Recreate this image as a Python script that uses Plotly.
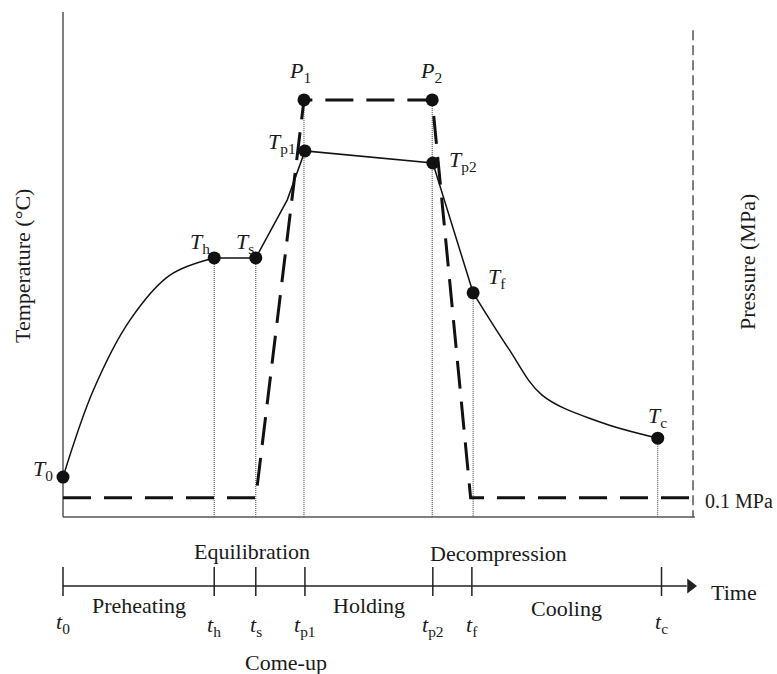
import plotly.graph_objects as go

# ---------------- data (schematic, relative units) ----------------
# event times on the time axis
event_times = [0, 24.0, 30.6, 38.4, 58.7, 64.9, 95.0]
event_labels = ["<i>t</i><sub>0</sub>", "<i>t</i><sub>h</sub>", "<i>t</i><sub>s</sub>",
                "<i>t</i><sub>p1</sub>", "<i>t</i><sub>p2</sub>", "<i>t</i><sub>f</sub>",
                "<i>t</i><sub>c</sub>"]

# temperature curve segments
preheat_t = [0, 4.81, 10.63, 16.98, 24.0]
preheat_v = [7.9, 25.1, 39.0, 47.9, 51.3]
middle_t = [24.0, 30.6, 35.6, 38.4, 58.7, 65.1]
middle_v = [51.3, 51.3, 62.8, 72.5, 70.1, 44.4]
cooling_t = [65.1, 70.7, 76.0, 85.0, 94.4]
cooling_v = [44.4, 33.4, 24.2, 18.9, 15.6]

# key temperature points
temp_point_labels = ["<i>T</i><sub>0</sub>", "<i>T</i><sub>h</sub>", "<i>T</i><sub>s</sub>",
                     "<i>T</i><sub>p1</sub>", "<i>T</i><sub>p2</sub>", "<i>T</i><sub>f</sub>",
                     "<i>T</i><sub>c</sub>"]
temp_point_t = [0, 24.0, 30.6, 38.4, 58.7, 65.1, 94.4]
temp_point_v = [7.9, 51.3, 51.3, 72.5, 70.1, 44.4, 15.6]

# pressure profile
pres_t = [0, 30.6, 38.25, 58.6, 64.7, 100]
pres_v = [3.8, 3.8, 82.6, 82.6, 3.8, 3.8]
pres_point_labels = ["<i>P</i><sub>1</sub>", "<i>P</i><sub>2</sub>"]
pres_point_t = [38.25, 58.6]
pres_point_v = [82.6, 82.6]

phase_labels = ["Preheating", "Equilibration", "Come-up", "Holding", "Decompression", "Cooling"]

# ---------------- figure ----------------
FONT = "Liberation Serif"
FS = 22
TIME_AXIS_Y = -13.66

fig = go.Figure()

# guide lines (dotted) from the key points down to the time axis
drops = [
    (temp_point_t[1], temp_point_v[1]),
    (temp_point_t[2], temp_point_v[2]),
    (pres_point_t[0], pres_point_v[0]),
    (pres_point_t[1], pres_point_v[1]),
    (temp_point_t[5], temp_point_v[5]),
    (temp_point_t[6], temp_point_v[6]),
]
for x, y in drops:
    fig.add_trace(go.Scatter(x=[x, x], y=[y, 0], mode="lines",
                             line=dict(color="#333333", width=1, dash="1px,1px"),
                             hoverinfo="skip", showlegend=False))

# frame: left axis, bottom axis, right dashed pressure axis
fig.add_trace(go.Scatter(x=[0, 0], y=[0, 100], mode="lines",
                         line=dict(color="#555555", width=1.5), hoverinfo="skip", showlegend=False))
fig.add_trace(go.Scatter(x=[0, 100.3], y=[0, 0], mode="lines",
                         line=dict(color="#555555", width=1.5), hoverinfo="skip", showlegend=False))
fig.add_trace(go.Scatter(x=[100, 100], y=[96.4, 0], mode="lines",
                         line=dict(color="#555555", width=1.5, dash="10px,5px"),
                         hoverinfo="skip", showlegend=False))

# pressure profile
fig.add_trace(go.Scatter(x=pres_t, y=pres_v, mode="lines",
                         line=dict(color="#111111", width=3, dash="28px,13px"),
                         hoverinfo="skip", showlegend=False))

# temperature profile
fig.add_trace(go.Scatter(x=preheat_t, y=preheat_v, mode="lines", line_shape="spline",
                         line=dict(color="#111111", width=1.5, smoothing=1.0),
                         hoverinfo="skip", showlegend=False))
fig.add_trace(go.Scatter(x=middle_t, y=middle_v, mode="lines",
                         line=dict(color="#111111", width=1.5), hoverinfo="skip", showlegend=False))
fig.add_trace(go.Scatter(x=cooling_t, y=cooling_v, mode="lines", line_shape="spline",
                         line=dict(color="#111111", width=1.5, smoothing=1.0),
                         hoverinfo="skip", showlegend=False))

# markers
fig.add_trace(go.Scatter(x=temp_point_t + pres_point_t, y=temp_point_v + pres_point_v,
                         mode="markers", marker=dict(color="#111111", size=13),
                         hoverinfo="skip", showlegend=False))

# time axis with ticks and arrow
fig.add_trace(go.Scatter(x=[0, 99], y=[TIME_AXIS_Y, TIME_AXIS_Y], mode="lines",
                         line=dict(color="#222222", width=1.5), hoverinfo="skip", showlegend=False))
for t in event_times:
    fig.add_trace(go.Scatter(x=[t, t], y=[TIME_AXIS_Y + 3.76, TIME_AXIS_Y - 1.98], mode="lines",
                             line=dict(color="#222222", width=1.5), hoverinfo="skip", showlegend=False))
fig.add_trace(go.Scatter(x=[99.6], y=[TIME_AXIS_Y], mode="markers",
                         marker=dict(symbol="triangle-right", size=13, color="#222222"),
                         hoverinfo="skip", showlegend=False))

annotations = []


def label(text, x, y, xs=0, ys=0, size=FS, xanchor="center", angle=0):
    annotations.append(dict(text=text, x=x, y=y, xref="x", yref="y", xshift=xs, yshift=ys,
                            showarrow=False, xanchor=xanchor, yanchor="middle", textangle=angle,
                            font=dict(family=FONT, size=size, color="#1a1a1a")))


# point labels (offsets in pixels)
t_offsets = [(-20, 7), (-14, 15), (-11, 15), (-23, 8), (30, 2), (24, 15), (0, 21)]
for lab, x, y, (xs, ys) in zip(temp_point_labels, temp_point_t, temp_point_v, t_offsets):
    label(lab, x, y, xs, ys)
p_offsets = [(-4, 28), (-1, 28)]
for lab, x, y, (xs, ys) in zip(pres_point_labels, pres_point_t, pres_point_v, p_offsets):
    label(lab, x, y, xs, ys)

# event time labels below the time axis
et_offsets = [(0, -37), (0, -40), (0, -40), (0, -40), (0, -40), (0, -40), (0, -37)]
for lab, x, (xs, ys) in zip(event_labels, event_times, et_offsets):
    label(lab, x, TIME_AXIS_Y, xs, ys)

# phase labels
mid = lambda a, b: (event_times[a] + event_times[b]) / 2
label(phase_labels[0], mid(0, 1), TIME_AXIS_Y, 0, -20)
label(phase_labels[1], mid(1, 2), TIME_AXIS_Y, 17, 34)
label(phase_labels[2], mid(2, 3), TIME_AXIS_Y, 6, -77)
label(phase_labels[3], mid(3, 4), TIME_AXIS_Y, 0, -20)
label(phase_labels[4], mid(4, 5), TIME_AXIS_Y, 46, 32)
label(phase_labels[5], mid(5, 6), TIME_AXIS_Y, 0, -23)

# axis titles and annotations
label("Time", 100, TIME_AXIS_Y, 16, -7, xanchor="left")
label("0.1 MPa", 100, pres_v[-1], 10, -3, size=20, xanchor="left")
label("Temperature (°C)", 0, 49.7, -41, 0, angle=-90)
label("Pressure (MPa)", 100, 50.5, 55, 0, angle=-90)

fig.update_layout(
    width=777, height=674,
    margin=dict(l=0, r=0, t=0, b=0),
    paper_bgcolor="white", plot_bgcolor="white",
    xaxis=dict(range=[-10, 113.33], visible=False, fixedrange=True),
    yaxis=dict(range=[-31.09, 102.38], visible=False, fixedrange=True),
    annotations=annotations,
    showlegend=False,
)

fig.write_html("out.html", config={"displayModeBar": False},
               post_script="document.body.style.margin='0';")
